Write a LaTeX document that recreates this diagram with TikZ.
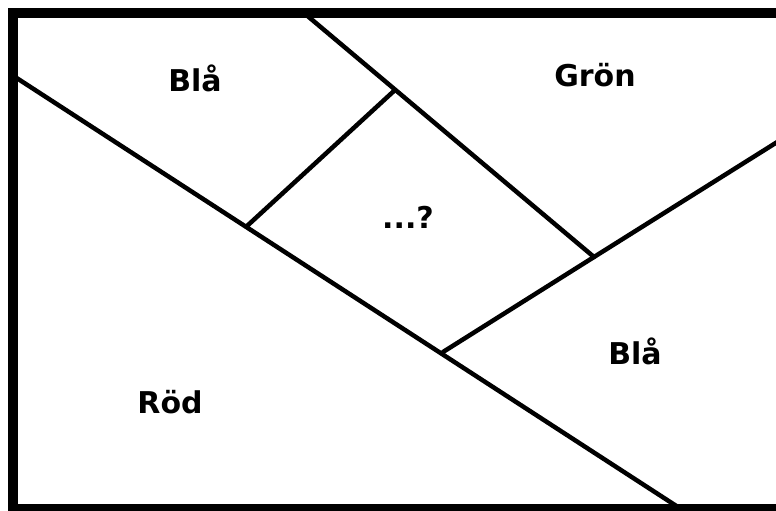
\documentclass[tikz,border=0pt]{standalone}
\usepackage{fontspec}
\setmainfont{DejaVu Sans}
\begin{document}
\begin{tikzpicture}[x=1pt,y=-1pt,
  edge/.style={line width=4.5pt,line cap=round},
  frame/.style={line width=10pt},
  lbl/.style={font=\bfseries\fontsize{30}{32}\selectfont,anchor=base,inner sep=0pt}]
\useasboundingbox (0,0) rectangle (776,511);
\clip (0,0) rectangle (776,511);
\fill[white] (0,0) rectangle (776,511);
% named points
\coordinate (topA) at (304,13);
\coordinate (jA) at (594,257);
\coordinate (leftB) at (12,75);
\coordinate (botB) at (681,509);
\coordinate (jB1) at (247,226);
\coordinate (jB2) at (443,352);
\coordinate (jC) at (395,90);
\coordinate (rightD) at (790,134);
% dividing lines
\draw[edge] (topA) -- (jA);
\draw[edge] (leftB) -- (botB);
\draw[edge] (jB1) -- (jC);
\draw[edge] (jB2) -- (jA) -- (rightD);
% frame
\draw[frame] (12.5,13) rectangle (790,509);
% labels
\node[lbl] (bla1) at (195,91) {Blå};
\node[lbl] (gron) at (595,86) {Grön};
\node[lbl] (q) at (408,228) {...?};
\node[lbl] (bla2) at (635,364) {Blå};
\node[lbl] (rod) at (170,413) {Röd};
\end{tikzpicture}
\end{document}
